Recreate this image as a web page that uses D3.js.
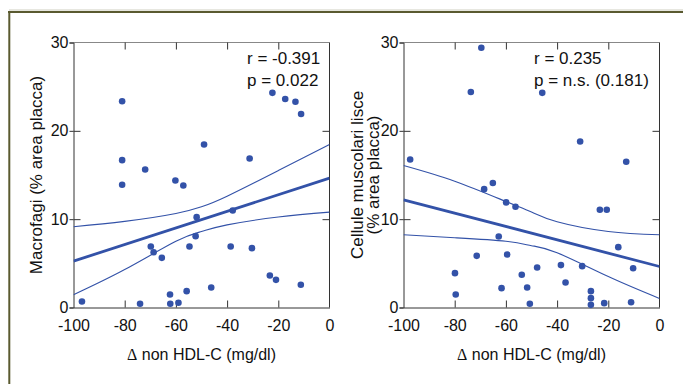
<!DOCTYPE html>
<html>
<head>
<meta charset="utf-8">
<script src="https://cdn.jsdelivr.net/npm/d3@7"></script>
<style>
  body { margin: 0; background: #fff; }
  svg { display: block; font-family: "Liberation Sans", Arial, sans-serif; }
</style>
</head>
<body>
<div id="chart"></div>
<script>
// shared axis setup
const xTicks = [-100, -80, -60, -40, -20, 0];
const yTicks = [0, 10, 20, 30];
const xTitle = "non HDL-C (mg/dl)";

// left panel: macrofagi
const macroX = [-81.0, -81.0, -81.0, -72.0, -60.2, -57.1, -49.0, -31.2, -22.3, -17.3, -13.3, -11.1,
                -51.9, -37.8, -69.8, -68.7, -65.5, -52.3, -54.7, -38.6, -30.3, -23.3, -20.9, -11.2,
                -46.2, -55.8, -62.3, -62.2, -59.0, -74.0, -96.7];
const macroY = [23.35, 16.68, 13.89, 15.62, 14.38, 13.81, 18.45, 16.87, 24.3, 23.6, 23.3, 21.9,
                10.23, 10.98, 6.91, 6.26, 5.62, 8.08, 6.91, 6.91, 6.72, 3.62, 3.13, 2.57,
                2.26, 1.85, 1.47, 0.42, 0.53, 0.42, 0.68];
const macroFit = [5.25, 14.64];          // fitted value at x = -100 and x = 0
const macroBandX = [-100, -80, -60, -50, -40, -20, 0];
const macroUpper = [9.15, 9.75, 10.65, 11.4, 12.6, 15.5, 18.45];
const macroLower = [1.45, 4.3, 7.5, 8.6, 9.35, 10.25, 10.8];
const macroStats = ["r = -0.391", "p = 0.022"];
const macroTitle = ["Macrofagi (% area placca)"];

// right panel: cellule muscolari lisce
const smcX = [-69.6, -73.7, -45.8, -97.4, -31.0, -13.0, -68.5, -65.1, -59.9, -56.25, -23.3, -20.6,
              -62.8, -16.1, -71.4, -59.5, -47.8, -38.5, -30.2, -10.3, -79.9, -53.8, -36.7, -61.7,
              -51.7, -79.6, -26.8, -26.8, -26.8, -50.65, -21.6, -11.1];
const smcY = [29.4, 24.4, 24.3, 16.75, 18.8, 16.5, 13.4, 14.1, 11.9, 11.4, 11.06, 11.06,
              8.04, 6.83, 5.85, 6.0, 4.53, 4.8, 4.68, 4.45, 3.89, 3.7, 2.83, 2.19,
              2.26, 1.47, 1.85, 1.06, 0.3, 0.42, 0.49, 0.6];
const smcFit = [12.19, 4.64];
const smcBandX = [-100, -80, -60, -50, -40, -20, 0];
const smcUpper = [16.08, 14.3, 12.0, 10.8, 9.7, 8.6, 8.23];
const smcLower = [8.23, 7.9, 7.5, 7.0, 6.2, 3.5, 1.02];
const smcStats = ["r = 0.235", "p = n.s. (0.181)"];
const smcTitle = ["Cellule muscolari lisce", "(% area placca)"];

const blue = "#3352a8";
const W = 683, H = 384;

const svg = d3.select("#chart").append("svg")
    .attr("width", W)
    .attr("height", H);

// outer frame (top and left edges only)
svg.append("line").attr("x1", 9).attr("x2", W).attr("y1", 10).attr("y2", 10)
    .attr("stroke", "#cfcfc0").attr("stroke-width", 1);
svg.append("line").attr("x1", 8).attr("x2", W).attr("y1", 12).attr("y2", 12)
    .attr("stroke", "#5a5a30").attr("stroke-width", 2);
svg.append("line").attr("x1", 9.3).attr("x2", 9.3).attr("y1", 11).attr("y2", H)
    .attr("stroke", "#5a5a30").attr("stroke-width", 2);

function drawPanel(id, left, xs, ys, fit, bandX, upper, lower, stats, title, statsAnchor, titleGap) {
    const x = d3.scaleLinear().domain([-100, 0]).range([left, left + 256]);
    const y = d3.scaleLinear().domain([0, 30]).range([307.5, 42.5]);
    const g = svg.append("g");
    const plain = d => String(d);   // hyphen minus, as in the original

    g.append("clipPath").attr("id", "clip" + id)
        .append("rect")
        .attr("x", x(-100)).attr("y", y(30))
        .attr("width", x(0) - x(-100)).attr("height", y(0) - y(30));

    // frame
    g.append("line").attr("x1", x(-100)).attr("x2", x(0)).attr("y1", y(30)).attr("y2", y(30))
        .attr("stroke", "#888");
    g.append("line").attr("x1", x(0)).attr("x2", x(0)).attr("y1", y(30)).attr("y2", y(0))
        .attr("stroke", "#333");

    // left axis: labels + short outward ticks, then inward ticks
    g.append("g")
        .attr("transform", `translate(${x(-100)},0)`)
        .call(d3.axisLeft(y).tickValues(yTicks).tickSize(4).tickPadding(1).tickFormat(plain));
    g.append("g")
        .attr("transform", `translate(${x(-100)},0)`)
        .call(d3.axisRight(y).tickValues(yTicks.slice(1, 3)).tickSize(7).tickFormat(""))
        .select(".domain").remove();
    // right side inward ticks
    g.append("g")
        .attr("transform", `translate(${x(0)},0)`)
        .call(d3.axisLeft(y).tickValues(yTicks.slice(1, 3)).tickSize(7).tickFormat(""))
        .select(".domain").remove();

    // bottom axis: labels, inward ticks
    g.append("g")
        .attr("transform", `translate(0,${y(0)})`)
        .call(d3.axisBottom(x).tickValues(xTicks).tickSize(0).tickPadding(12).tickFormat(plain));
    g.append("g")
        .attr("transform", `translate(0,${y(0)})`)
        .call(d3.axisTop(x).tickValues(xTicks.slice(1, 5)).tickSize(7).tickFormat(""))
        .select(".domain").remove();
    // top inward ticks
    g.append("g")
        .attr("transform", `translate(0,${y(30)})`)
        .call(d3.axisBottom(x).tickValues(xTicks.slice(1, 5)).tickSize(7).tickFormat(""))
        .select(".domain").remove();

    g.selectAll(".domain").attr("stroke", "#333");
    g.selectAll(".tick line").attr("stroke", "#333");
    g.selectAll(".tick text")
        .attr("font-family", "'Liberation Sans', Arial, sans-serif")
        .attr("font-size", 16)
        .attr("fill", "#111");

    // confidence band and regression line
    const plot = g.append("g").attr("clip-path", `url(#clip${id})`);
    const band = d3.line()
        .x(d => x(d[0]))
        .y(d => y(d[1]))
        .curve(d3.curveNatural);
    [upper, lower].forEach(vals => {
        plot.append("path")
            .datum(bandX.map((v, i) => [v, vals[i]]))
            .attr("d", band)
            .attr("fill", "none")
            .attr("stroke", blue)
            .attr("stroke-width", 1.1);
    });
    plot.append("line")
        .attr("x1", x(-100)).attr("y1", y(fit[0]))
        .attr("x2", x(0)).attr("y2", y(fit[1]))
        .attr("stroke", blue)
        .attr("stroke-width", 2.8);

    // points
    g.selectAll("circle.pt")
        .data(xs.map((v, i) => [v, ys[i]]))
        .join("circle")
        .attr("class", "pt")
        .attr("cx", d => x(d[0]))
        .attr("cy", d => y(d[1]))
        .attr("r", 3.3)
        .attr("fill", blue);

    // stats text
    stats.forEach((s, i) => {
        g.append("text")
            .attr("x", statsAnchor)
            .attr("y", 64 + i * 22)
            .attr("font-size", 17)
            .attr("fill", "#111")
            .text(s);
    });

    // x title
    const xt = g.append("text")
        .attr("x", (x(-100) + x(0)) / 2)
        .attr("y", 360)
        .attr("text-anchor", "middle")
        .attr("font-size", 16)
        .attr("fill", "#111");
    xt.append("tspan").attr("font-family", "'Liberation Serif', serif").text("\u0394");
    xt.append("tspan").text(" " + xTitle);

    // y title (last line sits closest to the axis)
    const cy = 175;
    const lastX = x(-100) - titleGap;
    title.forEach((t, i) => {
        g.append("text")
            .attr("transform", `translate(${lastX - (title.length - 1 - i) * 16.5},${cy}) rotate(-90)`)
            .attr("text-anchor", "middle")
            .attr("font-size", 17)
            .attr("fill", "#111")
            .text(t);
    });
}

drawPanel("a", 73.5, macroX, macroY, macroFit, macroBandX, macroUpper, macroLower, macroStats, macroTitle, 247, 32);
drawPanel("b", 403.5, smcX, smcY, smcFit, smcBandX, smcUpper, smcLower, smcStats, smcTitle, 534, 24.5);
</script>
</body>
</html>
